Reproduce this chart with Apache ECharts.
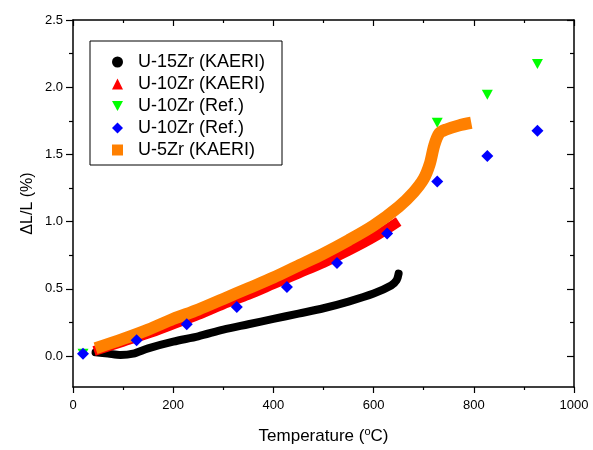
<!DOCTYPE html>
<html>
<head>
<meta charset="utf-8">
<script src="https://cdn.jsdelivr.net/npm/echarts@6/dist/echarts.min.js"></script>
<style>
  html, body { margin: 0; padding: 0; background: #fff; }
  #chart { width: 593px; height: 450px; }
</style>
</head>
<body>
<div id="chart"></div>
<script>
// U-15Zr (KAERI), dense dilatometer curve
var u15Kaeri = [[45, 0.01], [70, 0.0], [95, -0.01], [120, 0.0], [150, 0.04], [200, 0.09], [250, 0.13],
  [300, 0.18], [350, 0.22], [400, 0.26], [450, 0.30], [500, 0.34], [550, 0.39], [600, 0.45],
  [635, 0.51], [646, 0.55], [650, 0.60]]
// U-10Zr (KAERI)
var u10Kaeri = [[42, 0.02], [100, 0.09], [150, 0.15], [200, 0.22], [250, 0.29], [300, 0.37], [350, 0.44],
  [400, 0.52], [450, 0.60], [500, 0.68], [550, 0.77], [600, 0.87], [650, 0.99]]
// U-10Zr (Ref.) green triangles
var u10RefA = [[20, 0.0], [127, 0.13], [227, 0.27], [327, 0.42], [427, 0.58], [527, 0.77], [627, 1.01],
  [727, 1.73], [827, 1.94], [927, 2.17]]
// U-10Zr (Ref.) blue diamonds
var u10RefB = [[20, 0.0], [127, 0.10], [227, 0.22], [327, 0.35], [427, 0.50], [527, 0.68], [627, 0.90],
  [727, 1.29], [827, 1.48], [927, 1.67]]
// U-5Zr (KAERI)
var u5Kaeri = [[45, 0.04], [100, 0.11], [150, 0.18], [200, 0.26], [250, 0.33], [300, 0.41], [350, 0.49],
  [400, 0.57], [450, 0.66], [500, 0.75], [550, 0.85], [600, 0.96], [650, 1.10], [680, 1.21], [700, 1.31],
  [712, 1.42], [721, 1.56], [731, 1.65], [745, 1.68], [770, 1.71], [795, 1.73]]

var xTicks = [0, 1000, 200]
var yTicks = [0, 2.5, 0.5]

var font = 'Liberation Sans, Arial, sans-serif'
var invTri = 'path://M0,0 L10,0 L5,9 Z'
var tickStyle = { color: '#000', width: 1.2 }

var chart = echarts.init(document.getElementById('chart'))
chart.setOption({
  animation: false,
  backgroundColor: '#fff',
  textStyle: { fontFamily: font, color: '#000' },
  grid: [
    { left: 73, right: 19, top: 20, bottom: 60 },
    { left: 73, right: 19, top: 20, bottom: 94 }
  ],
  graphic: [{
    type: 'rect',
    shape: { x: 90, y: 41, width: 192, height: 124 },
    style: { fill: 'none', stroke: '#000', lineWidth: 1 },
    z: 10
  }],
  legend: {
    orient: 'vertical',
    left: 107,
    top: 48,
    itemWidth: 11,
    itemHeight: 11,
    itemGap: 4,
    itemStyle: { opacity: 1 },
    textStyle: { fontSize: 18, color: '#000', fontFamily: font, padding: [0, 0, 0, 10] },
    data: [
      { name: 'U-15Zr (KAERI)', icon: 'circle' },
      { name: 'U-10Zr (KAERI)', icon: 'triangle' },
      { name: 'U-10Zr (Ref.)', icon: invTri },
      { name: 'U-10Zr (Ref.) ', icon: 'diamond' },
      { name: 'U-5Zr (KAERI)', icon: 'path://M0,0 L8,0 L8,8 L0,8 Z' }
    ]
  },
  xAxis: [
    {
      type: 'value', gridIndex: 0, position: 'bottom',
      min: xTicks[0], max: xTicks[1], interval: xTicks[2],
      name: 'Temperature ({sup|o}C)', nameLocation: 'middle', nameGap: 39,
      nameTextStyle: { fontSize: 17, color: '#000', rich: { sup: { fontSize: 11, padding: [0, 0, 10, 0] } } },
      axisLine: { show: true, onZero: false, lineStyle: { color: '#000', width: 1.5 } },
      axisTick: { show: true, inside: false, length: 6, lineStyle: tickStyle },
      minorTick: { show: true, splitNumber: 2, length: 3, lineStyle: tickStyle },
      axisLabel: { fontSize: 13, color: '#000', margin: 12, formatter: function (v) { return String(v) } },
      splitLine: { show: false }
    },
    {
      type: 'value', gridIndex: 0, position: 'top',
      min: xTicks[0], max: xTicks[1], interval: xTicks[2],
      axisLine: { show: true, onZero: false, lineStyle: { color: '#000', width: 1.5 } },
      axisTick: { show: true, inside: true, length: 6, lineStyle: tickStyle },
      minorTick: { show: true, splitNumber: 2, length: 3, lineStyle: tickStyle },
      axisLabel: { show: false },
      splitLine: { show: false }
    },
    { type: 'value', gridIndex: 1, min: xTicks[0], max: xTicks[1], show: false }
  ],
  yAxis: [
    {
      type: 'value', gridIndex: 0, position: 'left', min: -0.25, max: 2.5,
      name: 'ΔL/L (%)', nameLocation: 'middle', nameGap: 37,
      nameTextStyle: { fontSize: 16, color: '#000' },
      axisLine: { show: true, onZero: false, lineStyle: { color: '#000', width: 1.5 } },
      axisTick: { show: false }, axisLabel: { show: false }, splitLine: { show: false }
    },
    {
      type: 'value', gridIndex: 0, position: 'right', min: -0.25, max: 2.5,
      axisLine: { show: true, onZero: false, lineStyle: { color: '#000', width: 1.5 } },
      axisTick: { show: false }, axisLabel: { show: false }, splitLine: { show: false }
    },
    {
      type: 'value', gridIndex: 1, position: 'left',
      min: yTicks[0], max: yTicks[1], interval: yTicks[2],
      axisLine: { show: false, onZero: false },
      axisTick: { show: true, inside: false, length: 7, lineStyle: tickStyle },
      minorTick: { show: true, splitNumber: 2, length: 4, lineStyle: tickStyle },
      axisLabel: { fontSize: 13, color: '#000', margin: 10, formatter: function (v) { return v.toFixed(1) } },
      splitLine: { show: false }
    },
    {
      type: 'value', gridIndex: 1, position: 'right',
      min: yTicks[0], max: yTicks[1], interval: yTicks[2],
      axisLine: { show: false, onZero: false },
      axisTick: { show: true, inside: true, length: 7, lineStyle: tickStyle },
      minorTick: { show: true, splitNumber: 2, length: 4, lineStyle: tickStyle },
      axisLabel: { show: false },
      splitLine: { show: false }
    }
  ],
  series: [
    {
      name: 'U-10Zr (Ref.)', type: 'scatter', xAxisIndex: 0, yAxisIndex: 0,
      data: u10RefA, symbol: invTri, symbolSize: [11, 10],
      itemStyle: { color: '#00ff00', opacity: 1 }, z: 2
    },
    {
      name: 'U-15Zr (KAERI)', type: 'line', xAxisIndex: 0, yAxisIndex: 0,
      data: u15Kaeri, showSymbol: false, smooth: 0.3, itemStyle: { color: '#000' },
      lineStyle: { color: '#000', width: 8, cap: 'round', join: 'round' }, z: 3
    },
    {
      name: 'U-10Zr (KAERI)', type: 'line', xAxisIndex: 0, yAxisIndex: 0,
      data: u10Kaeri, showSymbol: false, smooth: 0.3, itemStyle: { color: '#ff0000' },
      lineStyle: { color: '#ff0000', width: 10, cap: 'butt', join: 'round' }, z: 4
    },
    {
      name: 'U-5Zr (KAERI)', type: 'line', xAxisIndex: 0, yAxisIndex: 0,
      data: u5Kaeri, showSymbol: false, smooth: 0.3, itemStyle: { color: '#ff8000' },
      lineStyle: { color: '#ff8000', width: 12, cap: 'butt', join: 'round' }, z: 5
    },
    {
      name: 'U-10Zr (Ref.) ', type: 'scatter', xAxisIndex: 0, yAxisIndex: 0,
      data: u10RefB, symbol: 'diamond', symbolSize: 12,
      itemStyle: { color: '#0000ff', opacity: 1 }, z: 6
    }
  ]
})
</script>
</body>
</html>
